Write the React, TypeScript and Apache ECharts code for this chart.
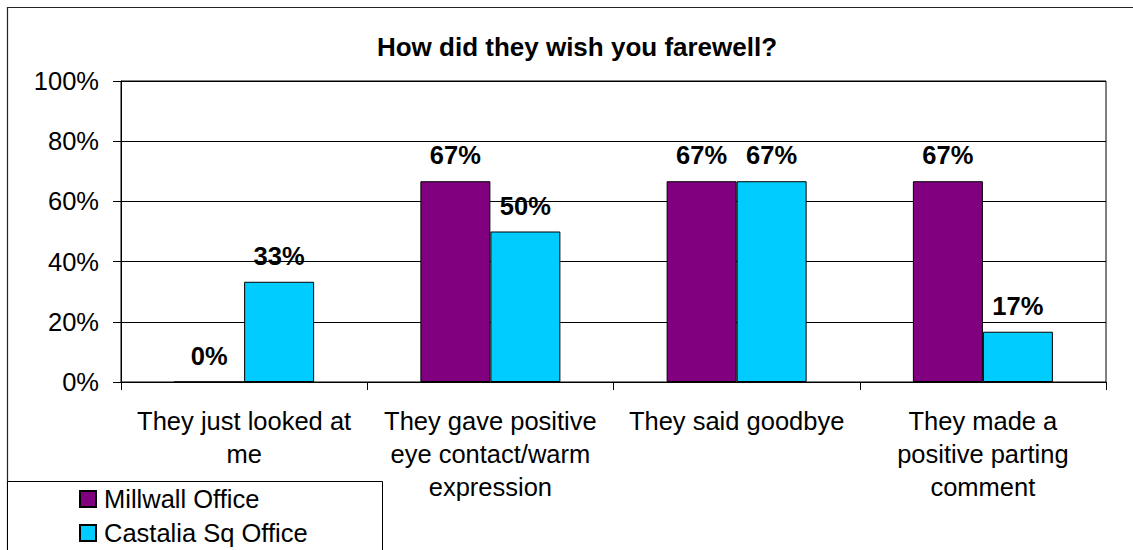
import React, { useEffect, useRef } from "react";
import * as echarts from "echarts";

const title = "How did they wish you farewell?";
const categories = [
  "They just looked at\nme",
  "They gave positive\neye contact/warm\nexpression",
  "They said goodbye",
  "They made a\npositive parting\ncomment",
];
const seriesNames = ["Millwall Office", "Castalia Sq Office"];
const millwall = [0, 66.7, 66.7, 66.7];
const castalia = [33.3, 50, 66.7, 16.7];
const yTicks = { min: 0, max: 100, interval: 20 };

const FONT = "'Liberation Sans', Arial, sans-serif";

export default function App() {
  const ref = useRef<HTMLDivElement>(null);
  useEffect(() => {
    document.body.style.margin = "0";
    if (!ref.current) return;
    const chart = echarts.init(ref.current, null, { renderer: "svg" });
    const labelCfg = {
      show: true,
      position: "top",
      distance: 13,
      fontFamily: FONT,
      fontSize: 25.5,
      fontWeight: "bold",
      color: "#000",
      formatter: (p: any) => Math.round(p.value) + "%",
    };
    chart.setOption({
      animation: false,
      backgroundColor: "#fff",
      textStyle: { fontFamily: FONT },
      title: {
        text: title,
        left: 572,
        textAlign: "center",
        top: 29,
        textStyle: { fontFamily: FONT, fontSize: 26, fontWeight: "bold", color: "#000" },
      },
      graphic: [
        {
          type: "rect",
          shape: { x: 7.5, y: 7.5, width: 1300, height: 700 },
          style: { fill: "none", stroke: "#222", lineWidth: 1.2 },
          silent: true,
          z: -10,
        },
        {
          type: "rect",
          shape: { x: 7.5, y: 481.5, width: 375, height: 200 },
          style: { fill: "#fff", stroke: "#000", lineWidth: 1 },
          silent: true,
          z: 3,
        },
      ],
      legend: {
        orient: "vertical",
        left: 79,
        top: 486,
        padding: 0,
        itemWidth: 16,
        itemHeight: 16,
        itemGap: 8,
        icon: "rect",
        z: 10,
        textStyle: {
          fontFamily: FONT,
          fontSize: 25.5,
          lineHeight: 26,
          color: "#000",
          padding: [0, 0, 0, 3],
        },
        data: seriesNames,
      },
      grid: {
        left: 121,
        top: 81,
        width: 985,
        height: 301,
        show: true,
        borderColor: "#000",
        borderWidth: 1,
        containLabel: false,
      },
      xAxis: {
        type: "category",
        data: categories,
        axisLine: { show: true, lineStyle: { color: "#000", width: 1 } },
        axisTick: { show: true, length: 8, lineStyle: { color: "#000" } },
        axisLabel: {
          interval: 0,
          margin: 22,
          fontFamily: FONT,
          fontSize: 25.5,
          lineHeight: 33,
          color: "#000",
          align: "center",
        },
      },
      yAxis: {
        type: "value",
        min: yTicks.min,
        max: yTicks.max,
        interval: yTicks.interval,
        axisLine: { show: true, lineStyle: { color: "#000", width: 1 } },
        axisTick: { show: true, length: 8, lineStyle: { color: "#000" } },
        splitLine: { show: true, lineStyle: { color: "#000", width: 1 } },
        axisLabel: {
          formatter: "{value}%",
          margin: 22,
          fontFamily: FONT,
          fontSize: 25.5,
          color: "#000",
        },
      },
      series: [
        {
          name: seriesNames[0],
          type: "bar",
          data: millwall,
          barWidth: 70,
          barGap: "0%",
          itemStyle: { color: "#800080", borderColor: "#000", borderWidth: 1 },
          label: labelCfg,
        },
        {
          name: seriesNames[1],
          type: "bar",
          data: castalia,
          barWidth: 70,
          barGap: "0%",
          itemStyle: { color: "#00CCFF", borderColor: "#000", borderWidth: 1 },
          label: labelCfg,
        },
      ],
    });
    return () => chart.dispose();
  }, []);
  return <div ref={ref} style={{ width: 1133, height: 550 }} />;
}
